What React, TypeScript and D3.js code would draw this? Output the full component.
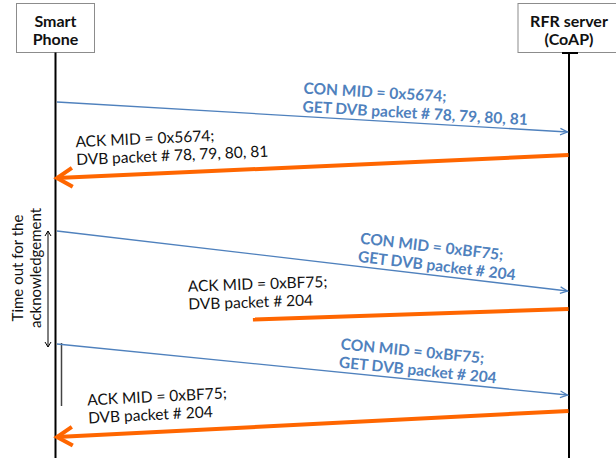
import React from "react";
import * as d3 from "d3";

// ---- data ----
const participants = ["Smart Phone", "RFR server (CoAP)"];
const headerLines = [["Smart", "Phone"], ["RFR server", "(CoAP)"]];
const boxWidths = [78, 102];

const msgFrom = [0, 1, 0, 1, 0, 1];
const msgTo = [1, 0, 1, 0, 1, 0];
const msgSend = [44, 97, 173, 251, 286, 353];
const msgRecv = [74, 120, 233, 268, 337, 379];
const msgReach = [1, 1, 1, 0.617, 1, 1]; // fraction of the path covered (lost message < 1)
const msgKind = ["CON", "ACK", "CON", "ACK", "CON", "ACK"];
const msgLine1 = [
  "CON MID = 0x5674;",
  "ACK MID = 0x5674;",
  "CON MID = 0xBF75;",
  "ACK MID = 0xBF75;",
  "CON MID = 0xBF75;",
  "ACK MID = 0xBF75;",
];
const msgLine2 = [
  "GET DVB packet # 78, 79, 80, 81",
  "DVB packet # 78, 79, 80, 81",
  "GET DVB packet # 204",
  "DVB packet # 204",
  "GET DVB packet # 204",
  "DVB packet # 204",
];
const labelX = [302, 77, 357, 189, 338, 89];

const timeoutStart = 173;
const timeoutEnd = 289;
const timeoutLabelAt = 210;
const timeoutLines = ["Time out for the", "acknowledgement"];
const activationStart = 285;
const activationEnd = 348;

// ---- style ----
const W = 616;
const H = 458;
const BLUE = "#4f81bd";
const ORANGE = "#ff6600";
const FONT = "Lato, 'Open Sans', sans-serif";
const FS = 15.5;

export default function App() {
  const x = d3.scalePoint<string>().domain(participants).range([55.5, 569]).padding(0);
  const y = d3.scaleLinear().domain([0, 400]).range([58, 458]);

  const px = (i: number) => x(participants[i]) as number;

  const msgs = msgSend.map((s, i) => {
    const dir = msgTo[i] > msgFrom[i] ? 1 : -1;
    const x1 = px(msgFrom[i]) + (dir > 0 ? 1.5 : -0.5);
    const xFull = px(msgTo[i]) - (dir > 0 ? 1.5 : -1.5);
    const y1 = y(s);
    const yFull = y(msgRecv[i]);
    const reach = msgReach[i];
    const x2 = x1 + (xFull - x1) * reach;
    const y2 = y1 + (yFull - y1) * reach;
    const slope = (yFull - y1) / (xFull - x1);
    const angle = (Math.atan(slope) * 180) / Math.PI;
    return { i, dir, x1, y1, x2, y2, slope, angle, reach, kind: msgKind[i] };
  });

  const lineGen = d3.line();

  return (
    <svg
      width={W}
      height={H}
      style={{ position: "absolute", left: 0, top: 0, background: "#fff" }}
      fontFamily={FONT}
    >
      {/* participant boxes */}
      {participants.map((p, i) => {
        const cx = px(i);
        const bw = boxWidths[i];
        return (
          <g key={p}>
            <rect x={cx - bw / 2} y={3.5} width={bw} height={49} fill="#fff" stroke="#8c8c8c" strokeWidth={1} />
            {headerLines[i].map((t, k) => (
              <text key={k} x={cx} y={27 + k * 18} textAnchor="middle" fontWeight="bold" fontSize={16} fill="#111">
                {t}
              </text>
            ))}
            <line x1={cx} x2={cx} y1={52.5} y2={H} stroke="#000" strokeWidth={2} />
          </g>
        );
      })}
      <line x1={px(1) - 7} x2={px(1) + 9} y1={53} y2={53} stroke="#000" strokeWidth={2} />

      {/* activation bar */}
      <line x1={px(0) + 6} x2={px(0) + 6} y1={y(activationStart)} y2={y(activationEnd)} stroke="#444" strokeWidth={1.5} />

      {/* timeout arrow */}
      {(() => {
        const tx = px(0) - 7.5;
        const ya = y(timeoutStart);
        const yb = y(timeoutEnd);
        return (
          <g stroke="#000" strokeWidth={1} fill="none">
            <line x1={tx} x2={tx} y1={ya} y2={yb} />
            <path d={lineGen([[tx - 3, ya + 5], [tx, ya], [tx + 3, ya + 5]]) as string} />
            <path d={lineGen([[tx - 3, yb - 5], [tx, yb], [tx + 3, yb - 5]]) as string} />
          </g>
        );
      })()}
      <g transform={`translate(0, ${y(timeoutLabelAt)}) rotate(-90)`}>
        {timeoutLines.map((t, k) => (
          <text key={k} x={0} y={23 + k * 18} textAnchor="middle" fontSize={15} fill="#111">
            {t}
          </text>
        ))}
      </g>

      {/* messages */}
      {msgs.map((m) => {
        const isCon = m.kind === "CON";
        const color = isCon ? BLUE : ORANGE;
        const sw = isCon ? 1.3 : 4;
        const armLen = isCon ? 8 : 18;
        const armAng = isCon ? 0.42 : 0.55;
        const theta = Math.atan2(m.y2 - m.y1, m.x2 - m.x1);
        const back = theta + Math.PI;
        const head =
          m.reach >= 1
            ? lineGen([
                [m.x2 + armLen * Math.cos(back - armAng), m.y2 + armLen * Math.sin(back - armAng)],
                [m.x2, m.y2],
                [m.x2 + armLen * Math.cos(back + armAng), m.y2 + armLen * Math.sin(back + armAng)],
              ])
            : null;
        const lx = labelX[m.i];
        const ly = m.y1 + (lx - m.x1) * m.slope;
        const d1 = isCon ? -23 : -30;
        const d2 = isCon ? -4.5 : -12;
        return (
          <g key={m.i}>
            <line x1={m.x1} y1={m.y1} x2={m.x2} y2={m.y2} stroke={color} strokeWidth={sw} />
            {head && (
              <path d={head as string} fill="none" stroke={color} strokeWidth={sw} strokeLinejoin="miter" strokeLinecap="butt" />
            )}
            <g transform={`translate(${lx}, ${ly}) rotate(${m.angle})`}>
              <text x={0} y={d1} fontSize={FS} fontWeight={isCon ? "bold" : "normal"} fill={isCon ? BLUE : "#111"}>
                {msgLine1[m.i]}
              </text>
              <text x={0} y={d2} fontSize={FS} fontWeight={isCon ? "bold" : "normal"} fill={isCon ? BLUE : "#111"}>
                {msgLine2[m.i]}
              </text>
            </g>
          </g>
        );
      })}
    </svg>
  );
}
